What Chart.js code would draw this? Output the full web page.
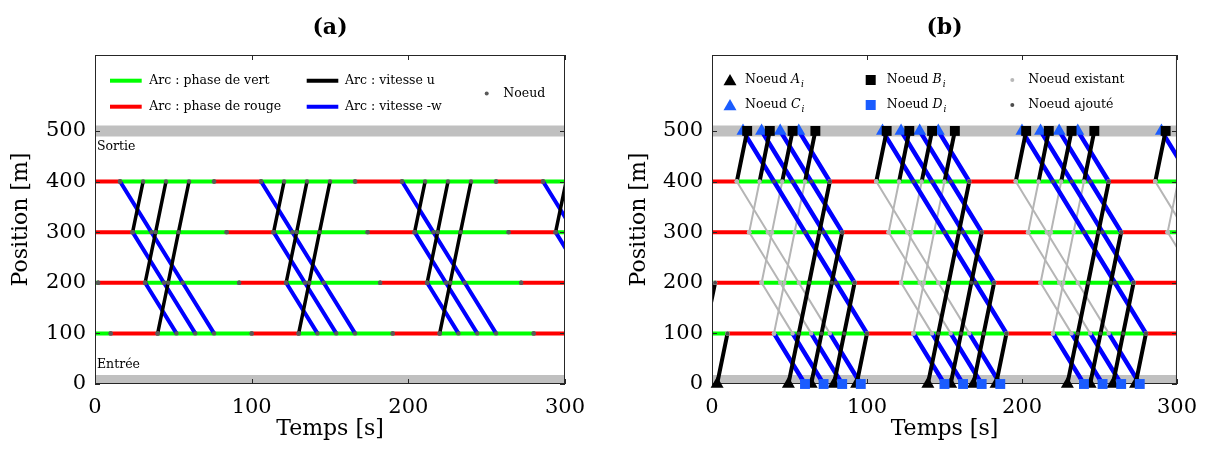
<!DOCTYPE html>
<html><head><meta charset="utf-8">
<script src="https://cdn.jsdelivr.net/npm/chart.js@4.4.1/dist/chart.umd.min.js"></script>
<style>
html,body{margin:0;padding:0;background:#fff;width:1208px;height:454px;overflow:hidden}
.wrap{position:absolute;top:0;width:604px;height:454px}
#wa{left:0}#wb{left:604px}
</style></head><body>
<div class="wrap" id="wa"><canvas id="ca" width="604" height="454"></canvas></div>
<div class="wrap" id="wb"><canvas id="cb" width="604" height="454"></canvas></div>
<script>
// ---------- data ----------
const xTicks = [0, 100, 200, 300];
const yTicks = [0, 100, 200, 300, 400, 500];
// signal phases: [position, start, end]
const greenPhases = [
  [400,16,76],[400,106,166],[400,196,256],[400,286,300],
  [300,24,84],[300,114,174],[300,204,264],[300,294,300],
  [200,0,2],[200,32,92],[200,122,182],[200,212,272],
  [100,0,10],[100,40,100],[100,130,190],[100,220,280]
];
const redPhases = [
  [400,0,16],[400,76,106],[400,166,196],[400,256,286],
  [300,0,24],[300,84,114],[300,174,204],[300,264,294],
  [200,2,32],[200,92,122],[200,182,212],[200,272,300],
  [100,10,40],[100,100,130],[100,190,220],[100,280,300]
];
// boundaries (sortie / entrée)
const exitBand = [[[0,500],[300,500]]];
const entryBand = [[[0,0],[300,0]]];
// arcs at speed u (network): polylines [t, position]
const uLines = [
  [[24,300],[30.7,400]], [[32,200],[38.7,300],[45.3,400]], [[40,100],[46.7,200],[53.3,300],[60,400]],
  [[114,300],[120.7,400]], [[122,200],[128.7,300],[135.3,400]], [[130,100],[136.7,200],[143.3,300],[150,400]],
  [[204,300],[210.7,400]], [[212,200],[218.7,300],[225.3,400]], [[220,100],[226.7,200],[233.3,300],[240,400]],
  [[294,300],[300.7,400]]
];
// arcs at speed -w (network)
const wLines = [
  [[16,400],[36,300],[56,200],[76,100]], [[24,300],[44,200],[64,100]], [[32,200],[52,100]],
  [[106,400],[126,300],[146,200],[166,100]], [[114,300],[134,200],[154,100]], [[122,200],[142,100]],
  [[196,400],[216,300],[236,200],[256,100]], [[204,300],[224,200],[244,100]], [[212,200],[232,100]],
  [[286,400],[306,300]], [[294,300],[314,200]]
];
// panel (b): arcs to the exit (to nodes B_i)
const exitLines = [
  [[16,400],[22.7,500]], [[30.7,400],[37.3,500]], [[45.3,400],[52,500]], [[60,400],[66.7,500]],
  [[106,400],[112.7,500]], [[120.7,400],[127.3,500]], [[135.3,400],[142,500]], [[150,400],[156.7,500]],
  [[196,400],[202.7,500]], [[210.7,400],[217.3,500]], [[225.3,400],[232,500]], [[240,400],[246.7,500]],
  [[286,400],[292.7,500]]
];
// panel (b): arcs to the entry (to nodes D_i)
const entryLines = [
  [[40,100],[60,0]], [[52,100],[72,0]], [[64,100],[84,0]], [[76,100],[96,0]],
  [[130,100],[150,0]], [[142,100],[162,0]], [[154,100],[174,0]], [[166,100],[186,0]],
  [[220,100],[240,0]], [[232,100],[252,0]], [[244,100],[264,0]], [[256,100],[276,0]]
];
// panel (b): added arcs at speed u (from nodes A_i)
const addedU = [
  [[-11.3,0],[-4.7,100],[2,200]], [[3.3,0],[10,100]],
  [[49.3,0],[56,100],[62.7,200],[69.3,300],[76,400]], [[64,0],[70.7,100],[77.3,200],[84,300]], [[78.7,0],[85.3,100],[92,200]], [[93.3,0],[100,100]],
  [[139.3,0],[146,100],[152.7,200],[159.3,300],[166,400]], [[154,0],[160.7,100],[167.3,200],[174,300]], [[168.7,0],[175.3,100],[182,200]], [[183.3,0],[190,100]],
  [[229.3,0],[236,100],[242.7,200],[249.3,300],[256,400]], [[244,0],[250.7,100],[257.3,200],[264,300]], [[258.7,0],[265.3,100],[272,200]], [[273.3,0],[280,100]]
];
// panel (b): added arcs at speed -w (from nodes C_i)
const addedW = [
  [[20,500],[40,400],[60,300],[80,200],[100,100]], [[32,500],[52,400],[72,300],[92,200]], [[44,500],[64,400],[84,300]], [[56,500],[76,400]],
  [[110,500],[130,400],[150,300],[170,200],[190,100]], [[122,500],[142,400],[162,300],[182,200]], [[134,500],[154,400],[174,300]], [[146,500],[166,400]],
  [[200,500],[220,400],[240,300],[260,200],[280,100]], [[212,500],[232,400],[252,300],[272,200]], [[224,500],[244,400],[264,300]], [[236,500],[256,400]],
  [[290,500],[310,400]]
];
const nodeA_t = [3.3, 49.3, 64, 78.7, 93.3, 139.3, 154, 168.7, 183.3, 229.3, 244, 258.7, 273.3];
const nodeB_t = [22.7, 37.3, 52, 66.7, 112.7, 127.3, 142, 156.7, 202.7, 217.3, 232, 246.7, 292.7];
const nodeC_t = [20, 32, 44, 56, 110, 122, 134, 146, 200, 212, 224, 236, 290];
const nodeD_t = [60, 72, 84, 96, 150, 162, 174, 186, 240, 252, 264, 276];
const entryPos = 0, exitPos = 500;

// ---------- styling & helpers ----------
const SERIF = '"DejaVu Serif", serif';
const GREEN = '#00ff00', RED = '#ff0000', BLUE = '#0000ff', BLACK = '#000000';
const BAND = '#c0c0c0', LGREY = '#b5b5b5', MBLUE = '#1a5cff';

function toPoints(lines){
  const out = [];
  lines.forEach(l => { l.forEach(p => out.push({x:p[0], y:p[1]})); out.push({x:l[l.length-1][0], y:null}); });
  return out;
}
function phaseLines(ph){ return ph.map(([p,s,e]) => [[s,p],[e,p]]); }
function nodePoints(sets, keep){
  const out = [];
  sets.forEach(ls => ls.forEach(l => l.forEach(([t,p]) => { if (t > 0.5 && t < 299.5 && keep(p)) out.push({x:t, y:p}); })));
  return out;
}
function lineDS(label, lines, color, width, order, extra){
  return Object.assign({type:'line', label, data: toPoints(lines), borderColor: color, borderWidth: width,
    pointRadius: 0, fill: false, tension: 0, spanGaps: false, clip: 0, order, borderCapStyle: 'butt'}, extra || {});
}
function markerDS(label, ts, pos, style, color, r, order){
  return {type:'scatter', label, data: ts.map(t => ({x:t, y:pos})), pointStyle: style, pointRadius: r,
    backgroundColor: color, borderWidth: 0, showLine: false, clip: false, order};
}
function nodeDS(label, pts, color, r, order){
  return {type:'scatter', label, data: pts, pointStyle: 'circle', pointRadius: r, backgroundColor: color, borderWidth: 0, showLine: false, clip: false, order};
}

const framePlugin = {
  id: 'frame',
  afterDatasetDraw(chart, args){
    const ds = chart.data.datasets[args.index];
    if (!ds.frameAfter) return;
    const {ctx, chartArea: a, scales} = chart;
    ctx.save();
    ctx.strokeStyle = '#262626'; ctx.lineWidth = 1;
    ctx.strokeRect(a.left + 0.5, a.top + 0.5, a.right - a.left - 1, a.bottom - a.top - 1);
    ctx.beginPath();
    xTicks.forEach(v => { const px = Math.round(scales.x.getPixelForValue(v)) + 0.5;
      ctx.moveTo(px, a.bottom); ctx.lineTo(px, a.bottom - 5); ctx.moveTo(px, a.top); ctx.lineTo(px, a.top + 5); });
    yTicks.forEach(v => { const py = Math.round(scales.y.getPixelForValue(v)) + 0.5;
      ctx.moveTo(a.left, py); ctx.lineTo(a.left + 5, py); ctx.moveTo(a.right, py); ctx.lineTo(a.right - 5, py); });
    ctx.stroke();
    ctx.restore();
  }
};

function baseOptions(padLeft, padRight, yWidth, title){
  return {
    responsive: false, animation: false, events: [], devicePixelRatio: 1,
    layout: {padding: {left: padLeft, right: padRight, top: 0, bottom: 0}},
    plugins: {
      legend: {display: false}, tooltip: {enabled: false},
      title: {display: true, text: title, fullSize: false, color: '#000',
        font: {family: SERIF, size: 22, weight: 'bold'}, padding: {top: 15, bottom: 13.6}}
    },
    scales: {
      x: {type: 'linear', min: 0, max: 300,
        afterBuildTicks: s => { s.ticks = xTicks.map(v => ({value: v})); },
        afterFit: s => { s.height = 70; },
        grid: {display: false, drawTicks: false}, border: {display: false},
        ticks: {font: {family: SERIF, size: 21}, color: '#000', padding: 11, maxRotation: 0, autoSkip: false},
        title: {display: true, text: 'Temps [s]', color: '#000', font: {family: SERIF, size: 22}, padding: {top: 0, bottom: 12}}},
      y: {type: 'linear', min: 0, max: 650,
        afterBuildTicks: s => { s.ticks = yTicks.map(v => ({value: v})); },
        afterFit: s => { s.width = yWidth; },
        grid: {display: false, drawTicks: false}, border: {display: false},
        ticks: {font: {family: SERIF, size: 21}, color: '#000', padding: 9, autoSkip: false},
        title: {display: true, text: 'Position [m]', color: '#000', font: {family: SERIF, size: 22}, padding: {top: 8, bottom: 0}}}
    }
  };
}

function hLine(ctx, x1, x2, y, color){
  ctx.beginPath(); ctx.strokeStyle = color; ctx.lineWidth = 4; ctx.lineCap = 'butt';
  ctx.moveTo(x1, y); ctx.lineTo(x2, y); ctx.stroke();
}
function dot(ctx, x, y, color, r){ ctx.beginPath(); ctx.fillStyle = color; ctx.arc(x, y, r, 0, Math.PI*2); ctx.fill(); }
function tri(ctx, x, y, r, color){
  ctx.beginPath(); ctx.fillStyle = color;
  ctx.moveTo(x, y - r); ctx.lineTo(x + r*0.866, y + r/2); ctx.lineTo(x - r*0.866, y + r/2); ctx.closePath(); ctx.fill();
}
function sq(ctx, x, y, s, color){ ctx.fillStyle = color; ctx.fillRect(x - s/2, y - s/2, s, s); }

const LFONT = '12.5px ' + SERIF;
const legendA = {
  id: 'legendA',
  afterDraw(chart){
    const {ctx, chartArea: a} = chart;
    ctx.save();
    const y1 = a.top + 25.7, y2 = a.top + 51.7, ym = a.top + 38.5;
    hLine(ctx, a.left + 15, a.left + 46.7, y1, GREEN);
    hLine(ctx, a.left + 15, a.left + 46.7, y2, RED);
    hLine(ctx, a.left + 211.7, a.left + 243.3, y1, BLACK);
    hLine(ctx, a.left + 211.7, a.left + 243.3, y2, BLUE);
    dot(ctx, a.left + 391.7, ym, '#5a5a5a', 2);
    ctx.fillStyle = '#000'; ctx.font = LFONT; ctx.textBaseline = 'middle'; ctx.textAlign = 'left';
    ctx.fillText('Arc : phase de vert', a.left + 54.3, y1);
    ctx.fillText('Arc : phase de rouge', a.left + 54.3, y2);
    ctx.fillText('Arc : vitesse u', a.left + 250, y1);
    ctx.fillText('Arc : vitesse -w', a.left + 250, y2);
    ctx.fillText('Noeud', a.left + 408.3, ym);
    ctx.fillText('Sortie', a.left + 2, a.top + 92);
    ctx.fillText('Entrée', a.left + 2, a.bottom - 19);
    ctx.restore();
  }
};
function subLabel(ctx, x, y, letter){
  ctx.font = LFONT; ctx.fillStyle = '#000'; ctx.textBaseline = 'middle'; ctx.textAlign = 'left';
  ctx.fillText('Noeud ', x, y);
  let w = ctx.measureText('Noeud ').width;
  ctx.font = 'italic 12.5px ' + SERIF;
  ctx.fillText(letter, x + w, y);
  w += ctx.measureText(letter).width + 1;
  ctx.font = 'italic 9px ' + SERIF;
  ctx.fillText('i', x + w, y + 5);
}
const legendB = {
  id: 'legendB',
  afterDraw(chart){
    const {ctx, chartArea: a} = chart;
    ctx.save();
    const y1 = a.top + 25, y2 = a.top + 50;
    tri(ctx, a.left + 18, y1 + 1.5, 7.5, BLACK);
    tri(ctx, a.left + 18, y2 + 1.5, 7.5, MBLUE);
    sq(ctx, a.left + 158.7, y1, 10, BLACK);
    sq(ctx, a.left + 158.7, y2, 10, MBLUE);
    dot(ctx, a.left + 300.3, y1, '#b8b8b8', 2);
    dot(ctx, a.left + 300.3, y2, '#4d4d4d', 2);
    subLabel(ctx, a.left + 33, y1, 'A');
    subLabel(ctx, a.left + 33, y2, 'C');
    subLabel(ctx, a.left + 174.7, y1, 'B');
    subLabel(ctx, a.left + 174.7, y2, 'D');
    ctx.font = LFONT; ctx.fillStyle = '#000'; ctx.textBaseline = 'middle';
    ctx.fillText('Noeud existant', a.left + 316.3, y1);
    ctx.fillText('Noeud ajouté', a.left + 316.3, y2);
    ctx.restore();
  }
};

// ---------- panel (a) ----------
const nodesA = nodePoints([phaseLines(greenPhases), phaseLines(redPhases), uLines, wLines], p => true);
new Chart(document.getElementById('ca'), {
  type: 'line',
  data: {datasets: [
    lineDS('Sortie', exitBand, BAND, 11, 20),
    lineDS('Entrée', entryBand, BAND, 18, 20),
    lineDS('Arc : phase de rouge', phaseLines(redPhases), RED, 4, 10),
    lineDS('Arc : phase de vert', phaseLines(greenPhases), GREEN, 4, 10),
    lineDS('Arc : vitesse -w', wLines, BLUE, 4, 8),
    lineDS('Arc : vitesse u', uLines, BLACK, 3.5, 6, {frameAfter: true}),
    nodeDS('Noeud', nodesA, '#5a5a5a', 2.2, 2)
  ]},
  options: baseOptions(0, 39, 95, '(a)'),
  plugins: [framePlugin, legendA]
});

// ---------- panel (b) ----------
const nodesExist = nodePoints([phaseLines(greenPhases), phaseLines(redPhases), uLines, wLines], p => true);
const nodesAdded = nodePoints([addedU, addedW], p => p >= 100 && p <= 400);
new Chart(document.getElementById('cb'), {
  type: 'line',
  data: {datasets: [
    lineDS('Sortie', exitBand, BAND, 11, 20),
    lineDS('Entrée', entryBand, BAND, 18, 20),
    lineDS('Arc : phase de rouge', phaseLines(redPhases), RED, 4, 15),
    lineDS('Arc : phase de vert', phaseLines(greenPhases), GREEN, 4, 15),
    lineDS('Arc existant u', uLines, LGREY, 2, 12),
    lineDS('Arc existant -w', wLines, LGREY, 2, 12),
    lineDS('Arc -w', addedW.concat(entryLines), BLUE, 4.5, 10),
    lineDS('Arc u', addedU.concat(exitLines), BLACK, 4, 9, {frameAfter: true}),
    nodeDS('Noeud existant', nodesExist, '#b8b8b8', 2.2, 7),
    nodeDS('Noeud ajouté', nodesAdded, '#4d4d4d', 2, 6),
    markerDS('Noeud C', nodeC_t, exitPos, 'triangle', MBLUE, 7.5, 4),
    markerDS('Noeud B', nodeB_t, exitPos, 'rect', BLACK, 7, 3),
    markerDS('Noeud A', nodeA_t, entryPos, 'triangle', BLACK, 7.5, 2),
    markerDS('Noeud D', nodeD_t, entryPos, 'rect', MBLUE, 7, 1)
  ]},
  options: baseOptions(14, 23, 94, '(b)'),
  plugins: [framePlugin, legendB]
});
</script>
</body></html>
